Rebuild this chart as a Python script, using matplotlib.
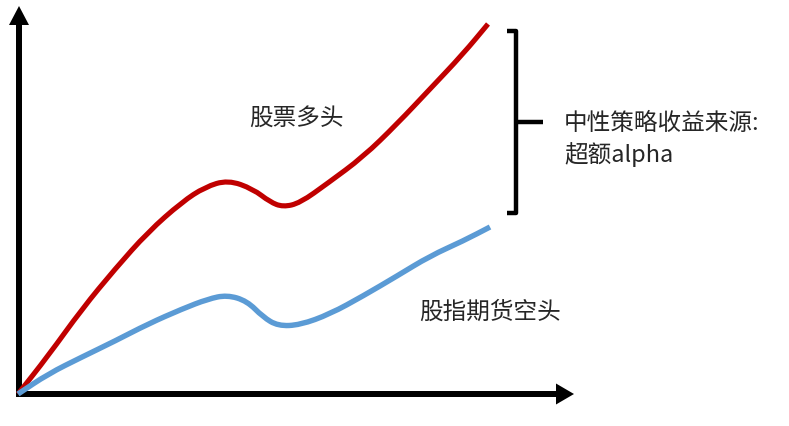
import matplotlib
matplotlib.use("Agg")
import matplotlib.pyplot as plt
from matplotlib.path import Path
from matplotlib.patches import PathPatch

plt.rcParams['font.family'] = ['Noto Sans CJK SC', 'DejaVu Sans']

red_x = [18, 48, 82, 115, 148, 182, 205, 228, 253, 270, 283, 300, 328, 363, 397, 430, 463, 488]
red_y = [395, 357, 310, 270, 233, 203, 188, 181, 190, 203, 208, 204, 184, 158, 125, 90, 55, 25]

blue_x = [18, 48, 82, 115, 148, 182, 208, 227, 247, 263, 278, 300, 330, 363, 397, 430, 463, 490]
blue_y = [395, 375, 358, 342, 325, 310, 300, 296, 302, 318, 327, 326, 315, 297, 277, 257, 242, 228]

label_long = "股票多头"
label_short = "股指期货空头"
label_alpha_1 = "中性策略收益来源:"
label_alpha_2 = "超额alpha"


def smooth_path(xs, ys):
    """Quadratic B-spline style path using the read points as control points."""
    pts = list(zip(xs, ys))
    verts = [pts[0]]
    codes = [Path.MOVETO]
    mid = lambda a, b: ((a[0] + b[0]) / 2, (a[1] + b[1]) / 2)
    verts.append(mid(pts[0], pts[1]))
    codes.append(Path.LINETO)
    for i in range(1, len(pts) - 1):
        verts.append(pts[i])
        verts.append(mid(pts[i], pts[i + 1]))
        codes += [Path.CURVE3, Path.CURVE3]
    verts.append(pts[-1])
    codes.append(Path.LINETO)
    return Path(verts, codes)


fig = plt.figure(figsize=(7.89, 4.27), dpi=100)
ax = fig.add_axes([0, 0, 1, 1])
ax.set_xlim(0, 789)
ax.set_ylim(427, 0)
ax.axis('off')

# axes arrows
ax.arrow(19, 398, 0, -391, width=6, head_width=20, head_length=19,
         length_includes_head=True, color='black', lw=0)
ax.arrow(16, 395, 558, 0, width=6, head_width=21, head_length=18,
         length_includes_head=True, color='black', lw=0)

# curves
ax.add_patch(PathPatch(smooth_path(red_x, red_y), fill=False, edgecolor='#C00000',
                       lw=3.7, joinstyle='round', capstyle='butt', zorder=3))
ax.add_patch(PathPatch(smooth_path(blue_x, blue_y), fill=False, edgecolor='#5B9BD5',
                       lw=3.9, joinstyle='round', capstyle='butt', zorder=3))

# bracket
ax.plot([507, 516, 516, 507], [32, 32, 214, 214], color='black', lw=3.2,
        solid_joinstyle='round', solid_capstyle='butt')
ax.plot([516, 543], [123, 123], color='black', lw=3.2, solid_capstyle='butt')

txt = dict(fontsize=17, color='#262626', va='center', ha='left')
ax.text(249, 118, label_long, **txt)
ax.text(419, 312, label_short, **txt)
ax.text(564, 123, label_alpha_1, **txt)
ax.text(564, 155, label_alpha_2, **txt)

fig.savefig("out.png", dpi=100)
